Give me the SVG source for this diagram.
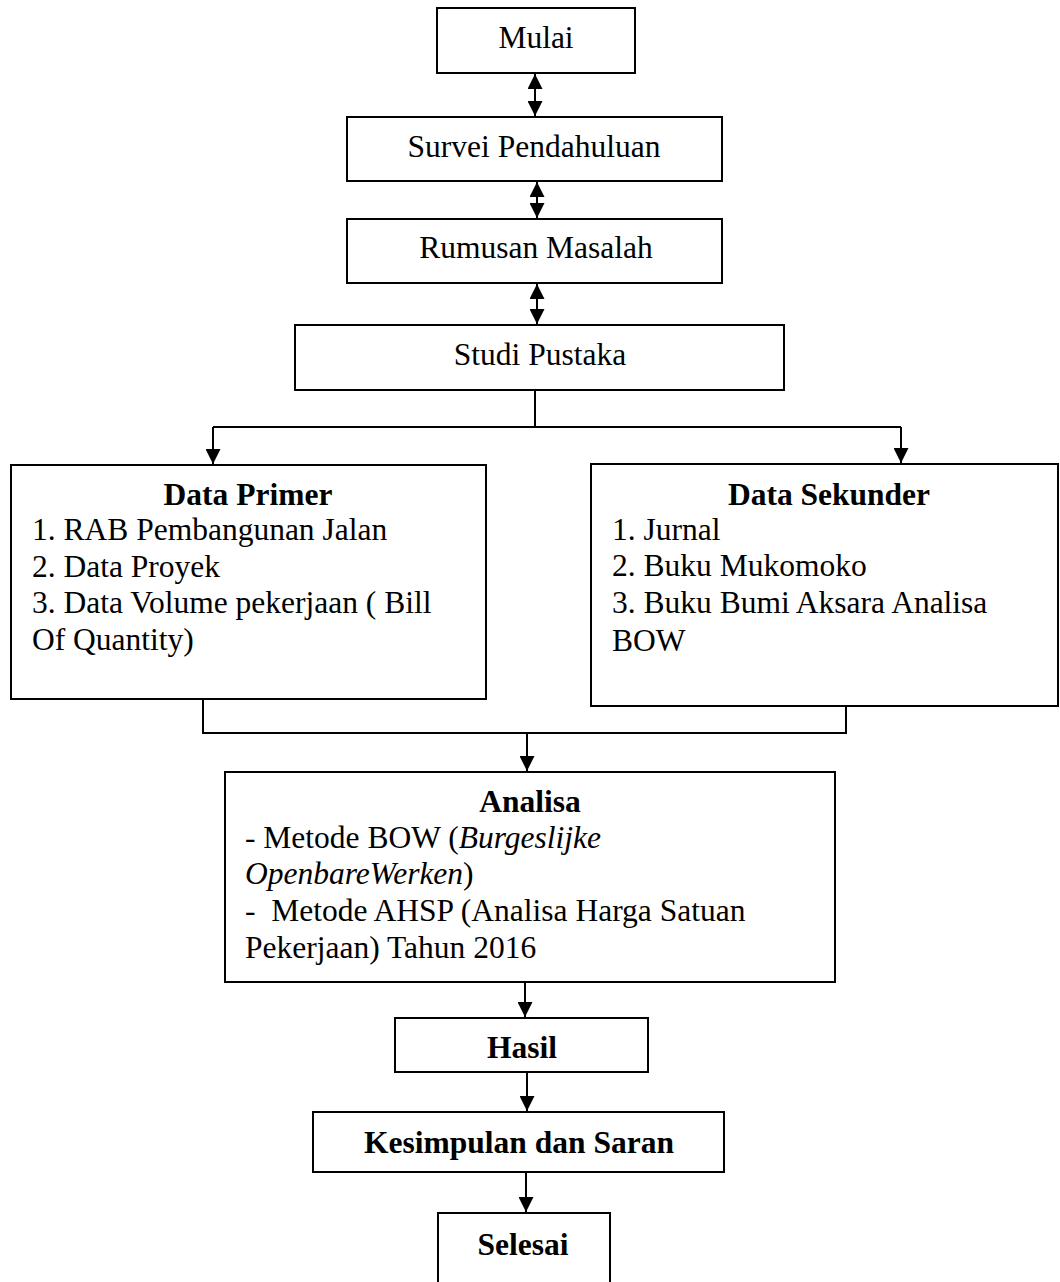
<svg xmlns="http://www.w3.org/2000/svg" width="1060" height="1282" viewBox="0 0 1060 1282">
<style>
.box{fill:#fff;stroke:#000;stroke-width:2}
.t{font-family:"Liberation Serif","Times New Roman",serif;font-size:31.5px;fill:#000}
.c{text-anchor:middle}
.b{font-weight:bold}
.i{font-style:italic}
.ln{fill:none;stroke:#000;stroke-width:2}
</style>
<defs>
<marker id="ah" viewBox="0 0 15 15" refX="15" refY="7.5" markerWidth="15" markerHeight="15" markerUnits="userSpaceOnUse" orient="auto-start-reverse">
<path d="M0,0 L15,7.5 L0,15 z" fill="#000"/>
</marker>
</defs>
<rect width="1060" height="1282" fill="#fff"/>
<g id="connectors">
<line class="ln" x1="535" y1="74" x2="535" y2="116" marker-start="url(#ah)" marker-end="url(#ah)"/>
<line class="ln" x1="537" y1="182" x2="537" y2="218" marker-start="url(#ah)" marker-end="url(#ah)"/>
<line class="ln" x1="537" y1="284" x2="537" y2="324" marker-start="url(#ah)" marker-end="url(#ah)"/>
<path class="ln" d="M535,390 V427 M213,427 H901"/>
<line class="ln" x1="213" y1="427" x2="213" y2="464" marker-end="url(#ah)"/>
<line class="ln" x1="901" y1="427" x2="901" y2="463" marker-end="url(#ah)"/>
<path class="ln" d="M203,699 V733 H846 V706"/>
<line class="ln" x1="527" y1="733" x2="527" y2="771" marker-end="url(#ah)"/>
<line class="ln" x1="525" y1="982" x2="525" y2="1017" marker-end="url(#ah)"/>
<line class="ln" x1="527" y1="1072" x2="527" y2="1111" marker-end="url(#ah)"/>
<line class="ln" x1="526" y1="1172" x2="526" y2="1212" marker-end="url(#ah)"/>
</g>
<g id="mulai">
<rect class="box" x="437" y="8" width="198" height="65"/>
<text class="t c" x="536" y="48">Mulai</text>
</g>
<g id="survei">
<rect class="box" x="347" y="117" width="375" height="64"/>
<text class="t c" x="534" y="157">Survei Pendahuluan</text>
</g>
<g id="rumusan">
<rect class="box" x="347" y="219" width="375" height="64"/>
<text class="t c" x="536" y="258">Rumusan Masalah</text>
</g>
<g id="studi">
<rect class="box" x="295" y="325" width="489" height="65"/>
<text class="t c" x="540" y="365">Studi Pustaka</text>
</g>
<g id="primer">
<rect class="box" x="11" y="465" width="475" height="234"/>
<text class="t c b" x="248" y="505">Data Primer</text>
<text class="t" x="32" y="540">1. RAB Pembangunan Jalan</text>
<text class="t" x="32" y="577">2. Data Proyek</text>
<text class="t" x="32" y="613">3. Data Volume pekerjaan ( Bill</text>
<text class="t" x="32" y="650">Of Quantity)</text>
</g>
<g id="sekunder">
<rect class="box" x="591" y="464" width="467" height="242"/>
<text class="t c b" x="829" y="505">Data Sekunder</text>
<text class="t" x="612" y="540">1. Jurnal</text>
<text class="t" x="612" y="576">2. Buku Mukomoko</text>
<text class="t" x="612" y="613">3. Buku Bumi Aksara Analisa</text>
<text class="t" x="612" y="651">BOW</text>
</g>
<g id="analisa">
<rect class="box" x="225" y="772" width="610" height="210"/>
<text class="t c b" x="530" y="812">Analisa</text>
<text class="t" x="245" y="848">- Metode BOW (<tspan class="i">Burgeslijke</tspan></text>
<text class="t" x="245" y="884"><tspan class="i">OpenbareWerken</tspan>)</text>
<text class="t" x="245" y="921" xml:space="preserve">-  Metode AHSP (Analisa Harga Satuan</text>
<text class="t" x="245" y="958">Pekerjaan) Tahun 2016</text>
</g>
<g id="hasil">
<rect class="box" x="395" y="1018" width="253" height="54"/>
<text class="t c b" x="522" y="1058">Hasil</text>
</g>
<g id="kesimpulan">
<rect class="box" x="313" y="1112" width="411" height="60"/>
<text class="t c b" x="519" y="1153">Kesimpulan dan Saran</text>
</g>
<g id="selesai">
<rect class="box" x="438" y="1213" width="172" height="90"/>
<text class="t c b" x="523" y="1255">Selesai</text>
</g>
</svg>
